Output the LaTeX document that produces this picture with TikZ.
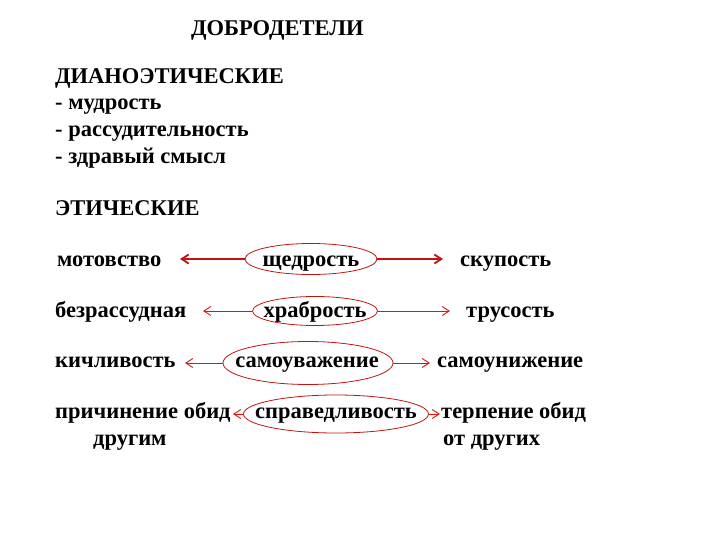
\documentclass[tikz,border=0pt]{standalone}
\usepackage{fontspec}
\setmainfont{Liberation Serif}
\usetikzlibrary{shapes.geometric,arrows.meta}
\definecolor{arrred}{RGB}{220,20,20}
\definecolor{ellred}{RGB}{190,20,20}
\tikzset{
  lbl/.style={anchor=base west,inner sep=0pt,font=\fontsize{22.5}{22.5}\selectfont\bfseries},
  clbl/.style={lbl,anchor=base},
  virt/.style={ellipse,draw=ellred,line width=0.8pt,inner sep=0pt},
  arr/.style={draw=arrred,line width=0.9pt,-{Straight Barb[length=7pt,width=9pt]}},
  arrthick/.style={arr,line width=1.8pt,draw=ellred}
}
\begin{document}
\begin{tikzpicture}[x=1pt,y=-1pt]
\useasboundingbox (0,0) rectangle (720,540);
\node[lbl] (title) at (191,36) {ДОБРОДЕТЕЛИ};
\node[lbl] (dian) at (55,84) {ДИАНОЭТИЧЕСКИЕ};
\node[lbl] (d1) at (55,110) {- мудрость};
\node[lbl] (d2) at (55,137) {- рассудительность};
\node[lbl] (d3) at (55,164) {- здравый смысл};
\node[lbl] (eth) at (55,215) {ЭТИЧЕСКИЕ};
% row 1
\node[lbl] (mot) at (57,266) {мотовство};
\node[lbl] (skup) at (460,266) {скупость};
\node[virt,minimum width=132pt,minimum height=31pt] (e1) at (311,259) {};
\node[clbl] (w1) at (311,266) {щедрость};
\coordinate (t1l) at (180,259);
\coordinate (t1r) at (443,259);
\draw[arrthick] (e1.west) -- (t1l);
\draw[arrthick] (e1.east) -- (t1r);
% row 2
\node[lbl] (bez) at (55,317) {безрассудная};
\node[lbl] (trus) at (466,317) {трусость};
\node[virt,minimum width=125pt,minimum height=29pt] (e2) at (315,311) {};
\node[clbl] (w2) at (315,317) {храбрость};
\coordinate (t2l) at (203,311);
\coordinate (t2r) at (450,311);
\draw[arr] (e2.west) -- (t2l);
\draw[arr] (e2.east) -- (t2r);
% row 3
\node[lbl] (kich) at (55,367) {кичливость};
\node[lbl] (samun) at (437,367) {самоунижение};
\node[virt,minimum width=170pt,minimum height=43pt] (e3) at (308,363) {};
\node[clbl] (w3) at (307,367) {самоуважение};
\coordinate (t3l) at (185,363);
\coordinate (t3r) at (430,363);
\draw[arr] (e3.west) -- (t3l);
\draw[arr] (e3.east) -- (t3r);
% row 4
\node[lbl] (prich) at (55,418) {причинение обид};
\node[lbl] (drug) at (93,445) {другим};
\node[lbl] (terp) at (441,418) {терпение обид};
\node[lbl] (otdr) at (443,445) {от других};
\node[virt,minimum width=185pt,minimum height=38pt] (e4) at (336,414) {};
\node[clbl] (w4) at (336,418) {справедливость};
\coordinate (t4l) at (233,414);
\coordinate (t4r) at (440,414);
\draw[arr] (e4.west) -- (t4l);
\draw[arr] (e4.east) -- (t4r);
\end{tikzpicture}
\end{document}
